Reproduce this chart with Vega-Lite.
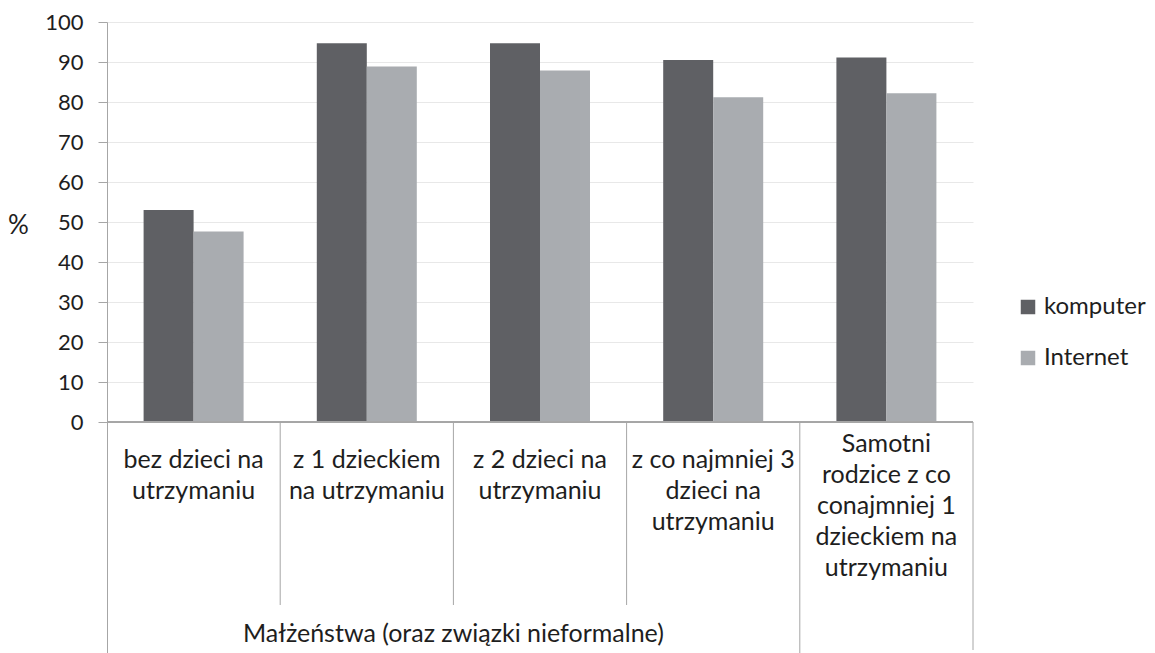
{
  "$schema": "https://vega.github.io/schema/vega-lite/v6.json",
  "width": 866,
  "height": 631,
  "autosize": "none",
  "padding": {"left": 107, "top": 22, "right": 182, "bottom": 0},
  "background": "white",
  "config": {
    "view": {"stroke": null},
    "font": "Lato",
    "text": {"font": "Lato", "color": "#1e1e1e"}
  },
  "datasets": {
    "bars": [
      {"cat": "bez dzieci na\nutrzymaniu", "series": "komputer", "value": 53.0},
      {"cat": "bez dzieci na\nutrzymaniu", "series": "Internet", "value": 47.6},
      {"cat": "z 1 dzieckiem\nna utrzymaniu", "series": "komputer", "value": 94.7},
      {"cat": "z 1 dzieckiem\nna utrzymaniu", "series": "Internet", "value": 88.9},
      {"cat": "z 2 dzieci na\nutrzymaniu", "series": "komputer", "value": 94.7},
      {"cat": "z 2 dzieci na\nutrzymaniu", "series": "Internet", "value": 87.9},
      {"cat": "z co najmniej 3\ndzieci na\nutrzymaniu", "series": "komputer", "value": 90.5},
      {"cat": "z co najmniej 3\ndzieci na\nutrzymaniu", "series": "Internet", "value": 81.2},
      {"cat": "Samotni\nrodzice z co\nconajmniej 1\ndzieckiem na\nutrzymaniu", "series": "komputer", "value": 91.1},
      {"cat": "Samotni\nrodzice z co\nconajmniej 1\ndzieckiem na\nutrzymaniu", "series": "Internet", "value": 82.2}
    ],
    "groups": [
      {"group": "Małżeństwa (oraz związki nieformalne)", "cat": "z 2 dzieci na\nutrzymaniu"}
    ]
  },
  "data": {"name": "bars"},
  "layer": [
    {
      "mark": {"type": "bar"},
      "encoding": {
        "x": {"field": "cat", "type": "nominal", "sort": null, "axis": null,
              "scale": {"paddingInner": 0, "paddingOuter": 0}},
        "xOffset": {"field": "series", "type": "nominal", "sort": ["komputer", "Internet"],
                    "scale": {"paddingInner": 0, "paddingOuter": 0.732}},
        "y": {"field": "value", "type": "quantitative",
              "scale": {"domain": [-57.75, 100], "nice": false, "zero": false},
              "axis": {
                "values": [0, 10, 20, 30, 40, 50, 60, 70, 80, 90, 100],
                "title": "%", "titleAngle": 0, "titleX": -89, "titleY": 203,
                "titleAlign": "center", "titleBaseline": "middle",
                "titleFontSize": 26, "titleFontWeight": "normal", "titleColor": "#1e1e1e", "titleFont": "Lato",
                "labelFontSize": 22, "labelColor": "#1e1e1e", "labelFont": "Lato", "labelPadding": 15,
                "tickSize": 9, "tickColor": "#a6a6a6", "domainColor": "#a6a6a6",
                "grid": true, "gridColor": "#e8e8e8"
              }},
        "color": {"field": "series", "type": "nominal",
                  "scale": {"domain": ["komputer", "Internet"], "range": ["#5f6064", "#a9acb0"]},
                  "legend": {"title": null, "orient": "none", "legendX": 909, "legendY": 273,
                             "symbolType": "square", "symbolSize": 210, "symbolStrokeWidth": 0,
                             "labelFontSize": 24, "labelFont": "Lato", "labelColor": "#1e1e1e",
                             "labelOffset": 4, "rowPadding": 27, "padding": 0}}
      }
    },
    {
      "mark": {"type": "rule", "color": "#a6a6a6"},
      "encoding": {"y": {"datum": 0}}
    },
    {
      "transform": [{"filter": "datum.series === 'komputer' && indexof(datum.cat, 'Samotni') < 0 && indexof(datum.cat, 'bez dzieci') < 0"}],
      "mark": {"type": "rule", "color": "#a6a6a6"},
      "encoding": {
        "x": {"field": "cat", "type": "nominal", "sort": null, "bandPosition": 0},
        "y": {"datum": 0},
        "y2": {"datum": -45.75}
      }
    },
    {
      "transform": [{"filter": "datum.series === 'komputer' && indexof(datum.cat, 'Samotni') >= 0"}],
      "mark": {"type": "rule", "color": "#a6a6a6"},
      "encoding": {
        "x": {"field": "cat", "type": "nominal", "sort": null, "bandPosition": 0},
        "y": {"datum": 0},
        "y2": {"datum": -57.75}
      }
    },
    {
      "transform": [{"filter": "datum.series === 'komputer' && indexof(datum.cat, 'Samotni') >= 0"}],
      "mark": {"type": "rule", "color": "#a6a6a6"},
      "encoding": {
        "x": {"field": "cat", "type": "nominal", "sort": null, "bandPosition": 1},
        "y": {"datum": 0},
        "y2": {"datum": -57}
      }
    },
    {
      "transform": [{"filter": "datum.series === 'komputer' && indexof(datum.cat, 'Samotni') < 0"}],
      "mark": {"type": "text", "lineBreak": "\n", "lineHeight": 31, "fontSize": 25, "align": "center", "baseline": "alphabetic"},
      "encoding": {
        "x": {"field": "cat", "type": "nominal", "sort": null},
        "y": {"datum": -11.5},
        "text": {"field": "cat"}
      }
    },
    {
      "transform": [{"filter": "datum.series === 'komputer' && indexof(datum.cat, 'Samotni') >= 0"}],
      "mark": {"type": "text", "lineBreak": "\n", "lineHeight": 31, "fontSize": 25, "align": "center", "baseline": "alphabetic"},
      "encoding": {
        "x": {"field": "cat", "type": "nominal", "sort": null},
        "y": {"datum": -7.5},
        "text": {"field": "cat"}
      }
    },
    {
      "data": {"name": "groups"},
      "mark": {"type": "text", "fontSize": 25, "align": "center", "baseline": "alphabetic"},
      "encoding": {
        "x": {"field": "cat", "type": "nominal", "sort": null, "bandPosition": 0},
        "y": {"datum": -55},
        "text": {"field": "group"}
      }
    }
  ]
}
